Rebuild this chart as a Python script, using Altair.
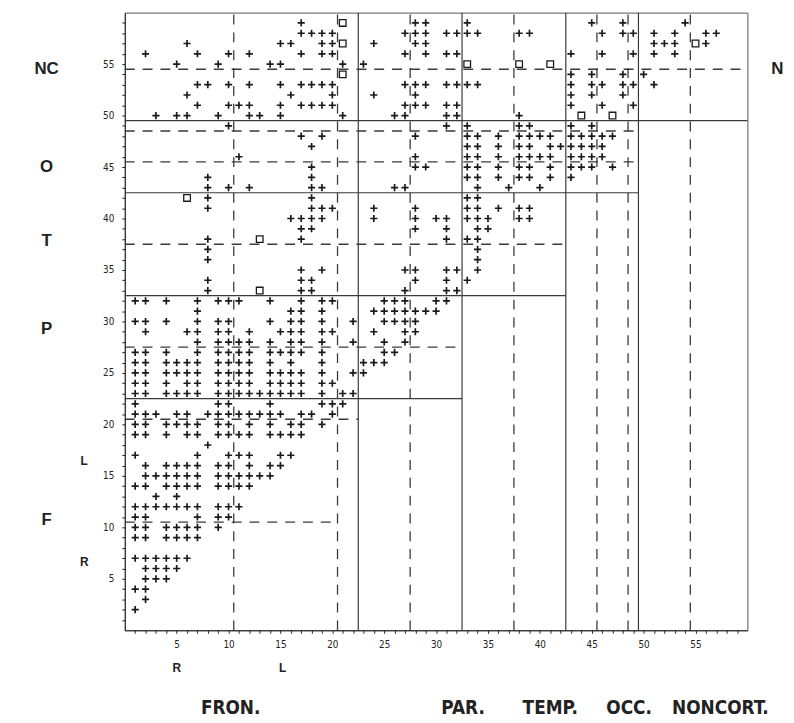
import altair as alt
import pandas as pd

# ---- connection matrix: y row -> list of x columns holding a "+" ----
PLUS_ROWS = {
    2: [1],
    3: [2],
    4: [1, 2],
    5: [2, 3, 4],
    6: [2, 3, 4, 5],
    7: [1, 2, 3, 4, 5, 6],
    9: [1, 2, 4, 5, 6, 7],
    10: [1, 2, 4, 5, 6, 7, 9],
    11: [1, 2, 7, 9, 10],
    12: [1, 2, 3, 4, 5, 6, 7, 9, 10, 11],
    13: [3, 5],
    14: [1, 2, 4, 5, 6, 7, 9, 10, 11, 12],
    15: [2, 3, 4, 5, 6, 7, 9, 10, 11, 12, 13, 14],
    16: [2, 4, 5, 6, 7, 9, 10, 12, 14, 15],
    17: [1, 7, 10, 11, 12, 15, 16],
    18: [8],
    19: [1, 2, 4, 6, 7, 9, 10, 11, 12, 14, 15, 16, 17],
    20: [1, 2, 4, 5, 6, 7, 9, 10, 12, 14, 16, 17, 19],
    21: [1, 2, 3, 5, 6, 8, 9, 10, 11, 12, 13, 14, 15, 17, 18, 20],
    22: [1, 9, 10, 14, 19, 20, 21],
    23: [1, 2, 4, 5, 6, 7, 9, 10, 11, 12, 13, 14, 15, 16, 17, 19, 21, 22],
    24: [1, 2, 4, 6, 7, 9, 10, 11, 12, 14, 15, 16, 17, 19, 20],
    25: [1, 2, 4, 5, 6, 7, 9, 10, 11, 12, 14, 15, 16, 17, 19, 22, 23],
    26: [1, 2, 4, 5, 6, 7, 9, 10, 11, 12, 14, 16, 19, 23, 24, 25],
    27: [1, 2, 4, 7, 9, 10, 11, 12, 14, 15, 16, 17, 19, 25, 26],
    28: [7, 9, 10, 11, 12, 14, 16, 17, 19, 22, 25, 27],
    29: [2, 6, 7, 9, 10, 12, 15, 16, 17, 19, 20, 24, 27, 28],
    30: [1, 2, 4, 7, 9, 10, 14, 16, 17, 19, 22, 25, 26, 27, 28],
    31: [7, 16, 17, 19, 24, 25, 26, 27, 28, 29, 30],
    32: [1, 2, 4, 7, 9, 10, 11, 14, 17, 19, 20, 25, 26, 27, 30, 31],
    33: [8, 17, 18, 27, 31, 32],
    34: [8, 17, 18, 28, 31, 33],
    35: [17, 19, 27, 28, 31, 32, 34],
    36: [8, 34],
    37: [8, 34],
    38: [8, 17, 31, 33, 34],
    39: [17, 18, 28, 31, 34, 35],
    40: [16, 17, 18, 19, 24, 28, 30, 31, 33, 34, 35, 38, 39],
    41: [8, 18, 19, 20, 24, 28, 33, 34, 36, 38, 39],
    42: [8, 18, 33, 34],
    43: [8, 10, 12, 18, 19, 26, 27, 34, 37, 40],
    44: [8, 18, 33, 34, 36, 38, 39, 41, 43],
    45: [18, 28, 29, 33, 34, 36, 38, 39, 41, 43, 44, 45, 47],
    46: [11, 28, 33, 34, 36, 38, 39, 40, 41, 43, 44, 45, 46],
    47: [18, 33, 34, 36, 38, 39, 41, 42, 43, 44, 45, 46],
    48: [17, 19, 28, 33, 34, 36, 38, 39, 40, 41, 43, 44, 45, 46, 47],
    49: [10, 31, 33, 38, 39, 43, 45],
    50: [3, 5, 6, 9, 12, 13, 15, 21, 26, 27, 31, 32, 38],
    51: [7, 10, 11, 12, 15, 17, 18, 19, 20, 27, 28, 29, 31, 32, 43, 46, 49],
    52: [6, 16, 20, 24, 28, 43, 45, 48],
    53: [7, 8, 10, 12, 15, 17, 18, 19, 20, 27, 28, 29, 31, 32, 33, 34, 43, 45, 46, 48, 49, 51],
    54: [43, 45, 48, 50],
    55: [5, 9, 14, 15, 21, 23],
    56: [2, 7, 10, 12, 17, 19, 20, 27, 29, 31, 32, 43, 46, 49, 51, 53],
    57: [6, 15, 16, 19, 20, 24, 28, 29, 51, 52, 53, 56],
    58: [17, 18, 19, 20, 27, 28, 29, 31, 32, 33, 34, 38, 39, 46, 48, 49, 51, 53, 56, 57],
    59: [17, 28, 29, 33, 45, 48, 54],
}

# open-square symbols
SQUARE_X = [6, 13, 13, 21, 21, 21, 33, 38, 41, 44, 47, 55]
SQUARE_Y = [42, 38, 33, 59, 57, 54, 55, 55, 55, 50, 50, 57]

# partition lines
V_SOLID_X = [22.5, 32.5, 42.5, 49.5]
V_DASHED_X = [10.5, 20.5, 27.5, 37.5, 45.5, 48.5, 54.5]
H_SOLID_Y = [22.5, 32.5, 42.5, 49.5]
H_SOLID_END = [32.5, 42.5, 49.5, 60]
H_DASHED_Y = [10.5, 20.5, 27.5, 37.5, 45.5, 48.5, 54.5]
H_DASHED_END = [20.5, 22.5, 32.5, 42.5, 49.5, 49.5, 60]

TICK_VALUES = list(range(1, 60))

LEFT_LABELS = ["NC", "O", "T", "P", "F"]
LEFT_LABEL_Y = [54.5, 45.0, 37.8, 29.3, 10.7]
SIDE_LABELS = ["L", "R"]
SIDE_LABEL_Y = [16.4, 6.6]
BOTTOM_LABELS = ["FRON.", "PAR.", "TEMP.", "OCC.", "NONCORT."]
BOTTOM_LABEL_X = [10.2, 32.6, 41.0, 48.6, 57.4]
SUB_LABELS = ["R", "L"]
SUB_LABEL_X = [5.0, 15.2]
RIGHT_LABELS = ["N"]
RIGHT_LABEL_Y = [54.5]

# ---- tables ----
plus_df = pd.DataFrame(
    [{"x": x, "y": y} for y, xs in PLUS_ROWS.items() for x in xs]
)
sq_df = pd.DataFrame({"x": SQUARE_X, "y": SQUARE_Y})
v_solid = pd.DataFrame({"x": V_SOLID_X, "y0": 0, "y1": 60})
v_dashed = pd.DataFrame({"x": V_DASHED_X, "y0": 0, "y1": 60})
h_solid = pd.DataFrame({"y": H_SOLID_Y, "x0": 0, "x1": H_SOLID_END})
h_dashed = pd.DataFrame({"y": H_DASHED_Y, "x0": 0, "x1": H_DASHED_END})
left_df = pd.DataFrame({"label": LEFT_LABELS, "y": LEFT_LABEL_Y})
side_df = pd.DataFrame({"label": SIDE_LABELS, "y": SIDE_LABEL_Y})
bottom_df = pd.DataFrame({"label": BOTTOM_LABELS, "x": BOTTOM_LABEL_X})
sub_df = pd.DataFrame({"label": SUB_LABELS, "x": SUB_LABEL_X})
right_df = pd.DataFrame({"label": RIGHT_LABELS, "y": RIGHT_LABEL_Y})

SCALE = alt.Scale(domain=[0, 60], nice=False, zero=False)
TICK_FONT = "Liberation Sans Narrow, DejaVu Sans Condensed, Liberation Sans"
X_AX = alt.Axis(values=TICK_VALUES, labelExpr="datum.value % 5 === 0 ? datum.label : ''",
                tickSize=3, labelFontSize=10, labelFont=TICK_FONT, labelPadding=6,
                domainColor="#222", tickColor="#222", labelColor="#222", grid=False)
Y_AX = alt.Axis(values=TICK_VALUES, labelExpr="datum.value % 5 === 0 ? datum.label : ''",
                tickSize=3, labelFontSize=10, labelFont=TICK_FONT, labelPadding=8,
                domainColor="#222", tickColor="#222", labelColor="#222", grid=False)

def X(field):
    return alt.X(field, type="quantitative", scale=SCALE, axis=X_AX, title=None)

def Y(field):
    return alt.Y(field, type="quantitative", scale=SCALE, axis=Y_AX, title=None)

LINE_COLOR = "#3a3a3a"

vs = alt.Chart(v_solid).mark_rule(color=LINE_COLOR, strokeWidth=1.2).encode(
    x=X("x"), y=Y("y0"), y2="y1")
vd = alt.Chart(v_dashed).mark_rule(color=LINE_COLOR, strokeWidth=1.3, strokeDash=[10, 8]).encode(
    x=X("x"), y=Y("y0"), y2="y1")
hs = alt.Chart(h_solid).mark_rule(color=LINE_COLOR, strokeWidth=1.2).encode(
    y=Y("y"), x=X("x0"), x2="x1")
hd = alt.Chart(h_dashed).mark_rule(color=LINE_COLOR, strokeWidth=1.3, strokeDash=[10, 8]).encode(
    y=Y("y"), x=X("x0"), x2="x1")

plus = alt.Chart(plus_df).mark_point(
    shape="M-1,0H1M0,-1V1", size=52, strokeWidth=1.7, filled=False, color="#1a1a1a", opacity=1
).encode(x=X("x"), y=Y("y"))

squares = alt.Chart(sq_df).mark_point(
    shape="square", size=45, strokeWidth=1.3, filled=False, color="#1a1a1a", opacity=1
).encode(x=X("x"), y=Y("y"))

GROUP_FONT = "Liberation Sans"
left_txt = alt.Chart(left_df).mark_text(
    font=GROUP_FONT, fontSize=17, fontWeight="bold", color="#222", align="center", baseline="middle"
).encode(y=Y("y"), x=alt.value(-79), text="label:N")

side_txt = alt.Chart(side_df).mark_text(
    font=GROUP_FONT, fontSize=12, fontWeight="bold", color="#222", align="center", baseline="middle"
).encode(y=Y("y"), x=alt.value(-41), text="label:N")

right_txt = alt.Chart(right_df).mark_text(
    font=GROUP_FONT, fontSize=17, fontWeight="bold", color="#222", align="left", baseline="middle"
).encode(y=Y("y"), x=alt.value(653), text="label:N")

bottom_txt = alt.Chart(bottom_df).mark_text(
    font="Liberation Sans Narrow, DejaVu Sans Condensed, Liberation Sans", fontSize=19,
    fontWeight="bold", color="#222", align="center", baseline="middle"
).encode(x=X("x"), y=alt.value(703), text="label:N")

sub_txt = alt.Chart(sub_df).mark_text(
    font=GROUP_FONT, fontSize=12, fontWeight="bold", color="#222", align="center", baseline="middle"
).encode(x=X("x"), y=alt.value(662), text="label:N")

chart = alt.layer(
    vs, vd, hs, hd, plus, squares, left_txt, side_txt, right_txt, bottom_txt, sub_txt
).properties(
    width=629, height=624,
    autosize=alt.AutoSizeParams(type="none"),
    padding={"left": 118, "top": 1, "right": 39, "bottom": 90},
    background="white",
).configure_view(stroke="#555", strokeWidth=1)

chart.save("out.html", embed_options={"renderer": "svg", "actions": False})
